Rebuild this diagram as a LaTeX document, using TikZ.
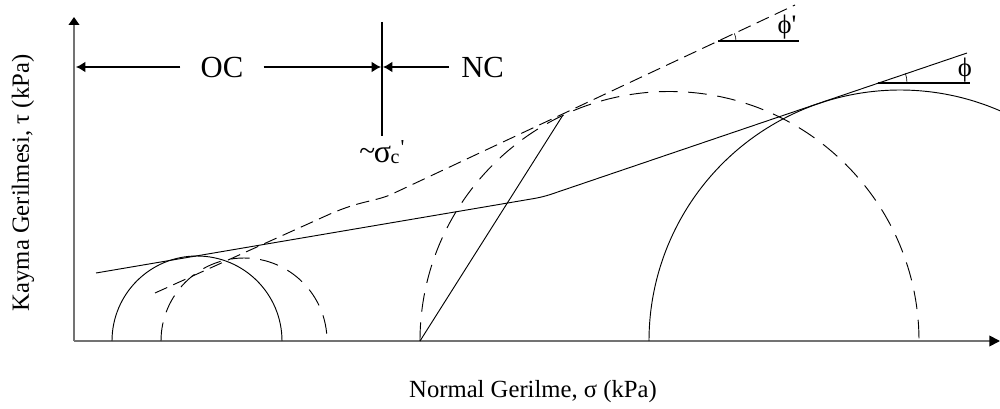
\documentclass[tikz,border=0pt]{standalone}
\usepackage{fontspec}
\setmainfont{Liberation Serif}
\usetikzlibrary{arrows.meta}
\begin{document}
\begin{tikzpicture}[x=0.75pt,y=0.75pt,
  axis/.style={black!55,line width=1.3pt},
  thinl/.style={line width=0.7pt},
  dshc/.style={line width=0.7pt,dash pattern=on 14pt off 8pt},
  dshl/.style={line width=0.7pt,dash pattern=on 10pt off 5pt},
  dimline/.style={line width=0.9pt},
  lbl/.style={font=\fontsize{18.5}{22}\selectfont, inner sep=0pt},
  big/.style={font=\fontsize{23}{27}\selectfont, inner ysep=0pt},
  phil/.style={font=\fontsize{20}{24}\selectfont, inner sep=0pt},
  tip/.style={-{Latex[length=7pt,width=8pt]}}]
\useasboundingbox (0,0) rectangle (1000,408);
% axes
\coordinate (O) at (74,67);
\coordinate (Ytop) at (74,391);
\coordinate (Xend) at (1000,67);
\draw[axis,-{Triangle[length=6pt,width=8pt,color=black]}] (O) -- (Ytop);
\draw[axis,-{Triangle[length=8pt,width=8pt,color=black]}] (O) -- (Xend);
\node[lbl,rotate=90] (ylab) at (23,225) {Kayma Gerilmesi, τ (kPa)};
\node[lbl] (xlab) at (533,16) {Normal Gerilme, σ (kPa)};
% OC / NC
\coordinate (L) at (76,341);
\coordinate (M) at (381,341);
\coordinate (Mr) at (383,341);
\node[big,inner xsep=15pt] (oc) at (222,341) {OC};
\node[big,inner xsep=9pt,anchor=west] (nc) at (449,341) {NC};
\draw[dimline,tip] (oc.west) -- (L);
\draw[dimline,tip] (oc.east) -- (M);
\draw[dimline,tip] (nc.west) -- (Mr);
\coordinate (Vt) at (382,386);
\coordinate (Vb) at (382,272);
\draw[dimline] (Vt) -- (Vb);
\node[inner sep=0pt,anchor=north] (sc) at (382,268)
  {\fontsize{22}{24}\selectfont\raisebox{1pt}{\textasciitilde}\kern-1pt\fontsize{24}{26}\selectfont σ\kern-0.5pt\raisebox{-1pt}{\fontsize{15}{18}\selectfont c}\kern1pt\raisebox{6pt}{\fontsize{16}{18}\selectfont\textquotesingle}};
% Mohr circles
\draw[thinl] (112,67) arc[start angle=180,end angle=0,radius=85];
\draw[dshc] (161,67) arc[start angle=180,end angle=0,radius=83];
\draw[dshc] (420,67) arc[start angle=180,end angle=0,radius=249.5];
\draw[thinl] (649,67) arc[start angle=180,end angle=66,radius=251];
% envelopes
\coordinate (s1) at (96,135);
\coordinate (s2) at (543,211);
\coordinate (s3) at (967,355);
\draw[thinl,rounded corners=6pt] (s1) -- (s2) -- (s3);
\coordinate (d1) at (155,115);
\coordinate (d2) at (330,194);
\coordinate (d3) at (390,213);
\coordinate (d4) at (795,403);
\draw[dshl] (d1) -- (d2) .. controls (360,207) and (372,206) .. (d3) -- (d4);
% pole line
\coordinate (p1) at (420,67);
\coordinate (p2) at (563,293);
\draw[thinl] (p1) -- (p2);
% angle marks
\coordinate (a1) at (718,367);
\coordinate (a1e) at (799,367);
\draw[dimline] (a1) -- (a1e);
\draw[line width=0.5pt] (a1) ++(18,0) arc[start angle=0,end angle=25,radius=18];
\node[phil] (phip) at (787,381) {ϕ\textquotesingle};
\coordinate (a2) at (878,325);
\coordinate (a2e) at (970,325);
\draw[dimline] (a2) -- (a2e);
\draw[line width=0.5pt] (a2) ++(29,0) arc[start angle=0,end angle=19,radius=29];
\node[phil] (phi) at (965,338) {ϕ};
\end{tikzpicture}
\end{document}
